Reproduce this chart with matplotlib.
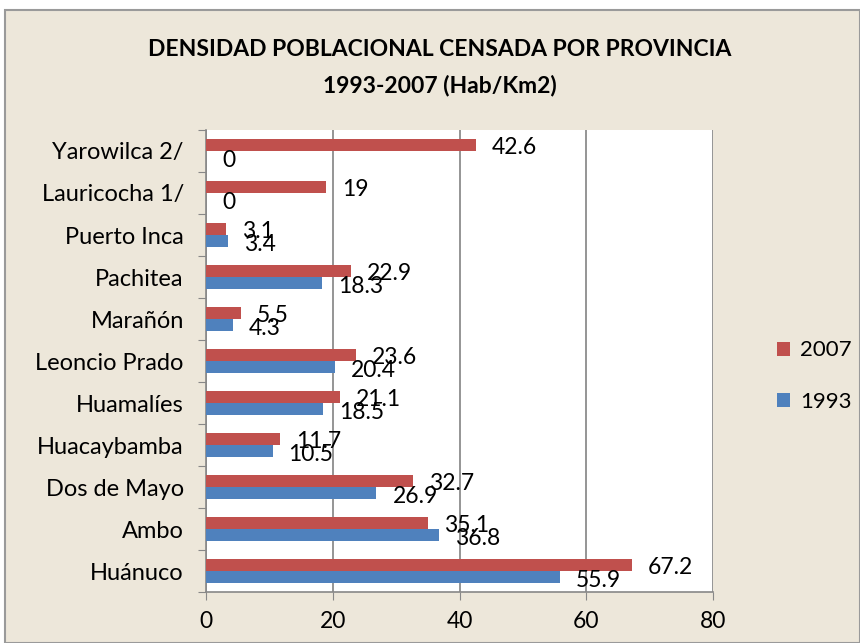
import matplotlib
matplotlib.use("Agg")
import matplotlib.pyplot as plt
import numpy as np
from matplotlib.patches import Rectangle

categories = ["Huánuco", "Ambo", "Dos de Mayo", "Huacaybamba", "Huamalíes",
              "Leoncio Prado", "Marañón", "Pachitea", "Puerto Inca",
              "Lauricocha 1/", "Yarowilca 2/"]
v1993 = [55.9, 36.8, 26.9, 10.5, 18.5, 20.4, 4.3, 18.3, 3.4, 0, 0]
v2007 = [67.2, 35.1, 32.7, 11.7, 21.1, 23.6, 5.5, 22.9, 3.1, 19, 42.6]
xticks = [0, 20, 40, 60, 80]

plt.rcParams['font.family'] = ['Lato', 'DejaVu Sans']

fig = plt.figure(figsize=(8.6, 6.43), dpi=100)
fig.patch.set_facecolor('white')
# chart background frame
fig.patches.append(Rectangle((0.006, 0.0), 0.994, 1 - 10/643, transform=fig.transFigure,
                             facecolor='#EDE7DA', edgecolor='#9A9A9A', lw=1.5, zorder=-10))

ax = fig.add_axes([206/860, 1-592/643, (713-206)/860, (592-130)/643])
ax.set_facecolor('white')

y = np.arange(len(categories))
h = 0.29
c07 = '#C0504D'
c93 = '#4F81BD'
ax.barh(y + h/2, v2007, height=h, color=c07, lw=0, label='2007', zorder=3)
ax.barh(y - h/2, v1993, height=h, color=c93, lw=0, label='1993', zorder=3)

for i in range(len(categories)):
    ax.annotate(f"{v2007[i]:g}", (v2007[i], y[i] + h/2), xytext=(11.5, -2),
                textcoords='offset points', ha='left', va='center', fontsize=16.5, zorder=5)
    ax.annotate(f"{v1993[i]:g}", (v1993[i], y[i] - h/2), xytext=(11.5, -2.5),
                textcoords='offset points', ha='left', va='center', fontsize=16.5, zorder=5)

ax.set_xlim(0, 80)
ax.set_ylim(-0.5, len(categories) - 0.5)
ax.set_xticks(xticks)
ax.set_xticklabels([str(t) for t in xticks], fontsize=16.5)
ax.set_yticks(np.arange(-0.5, len(categories), 1), minor=False)
ax.set_yticklabels([])
ax.set_yticks(y, minor=True)
ax.set_yticklabels(categories, minor=True, fontsize=17)
ax.tick_params(axis='y', which='minor', length=0, pad=16)
ax.tick_params(axis='y', which='major', length=6, color='#888888', direction='out')
ax.tick_params(axis='x', length=6, color='#888888', pad=8)
ax.grid(axis='x', color='#8C8C8C', lw=1.3, zorder=0)
for s in ['top', 'right']:
    ax.spines[s].set_visible(False)
for s in ['left', 'bottom']:
    ax.spines[s].set_color('#888888')
    ax.spines[s].set_linewidth(1.2)

fig.text(440/860, 1-50/643, "DENSIDAD POBLACIONAL CENSADA POR PROVINCIA",
         ha='center', va='center', fontsize=16.5, fontweight='bold')
fig.text(440/860, 1-86/643, "1993-2007 (Hab/Km2)",
         ha='center', va='center', fontsize=16.5, fontweight='bold')

handles, labels = ax.get_legend_handles_labels()
leg = fig.legend(handles, labels, loc='center left', bbox_to_anchor=(757/860, 1-376/643),
                 frameon=False, fontsize=16, handlelength=0.6, handleheight=0.6,
                 labelspacing=1.4, handletextpad=0.45)

fig.savefig('out.png', dpi=100, facecolor=fig.get_facecolor())
